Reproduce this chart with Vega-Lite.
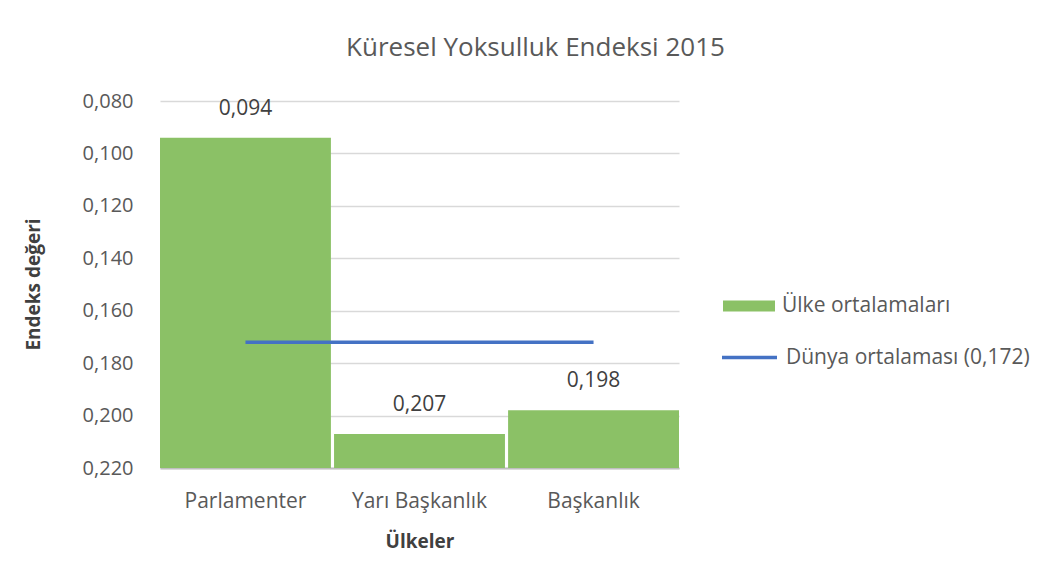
{
  "$schema": "https://vega.github.io/schema/vega-lite/v6.json",
  "autosize": {"type": "none"},
  "width": 519,
  "height": 367,
  "padding": {"left": 160, "top": 101, "right": 381, "bottom": 116},
  "background": "white",
  "title": {
    "text": "Küresel Yoksulluk Endeksi 2015",
    "anchor": "middle",
    "frame": "group",
    "dx": 116,
    "dy": 38,
    "offset": 42,
    "baseline": "bottom",
    "font": "Open Sans",
    "fontSize": 26,
    "fontWeight": "normal",
    "color": "#595959"
  },
  "datasets": {
    "bars": [
      {"ulke": "Parlamenter", "deger": 0.094, "etiket": "0,094"},
      {"ulke": "Yarı Başkanlık", "deger": 0.207, "etiket": "0,207"},
      {"ulke": "Başkanlık", "deger": 0.198, "etiket": "0,198"}
    ],
    "ortalama": [
      {"ulke": "Parlamenter", "deger": 0.172},
      {"ulke": "Başkanlık", "deger": 0.172}
    ]
  },
  "config": {
    "view": {"stroke": null},
    "font": "Open Sans"
  },
  "layer": [
    {
      "data": {"name": "bars"},
      "mark": {"type": "bar", "stroke": "white", "strokeWidth": 0},
      "encoding": {
        "x": {
          "field": "ulke",
          "type": "nominal",
          "sort": ["Parlamenter", "Yarı Başkanlık", "Başkanlık"],
          "scale": {"paddingInner": 0.018, "paddingOuter": 0},
          "axis": {
            "title": "Ülkeler",
            "titleFont": "Open Sans",
            "titleFontSize": 19,
            "titleFontWeight": "bold",
            "titleColor": "#404040",
            "titleY": 73,
            "titleBaseline": "middle",
            "labelAngle": 0,
            "labelFont": "Open Sans",
            "labelFontSize": 21,
            "labelColor": "#595959",
            "labelPadding": 22,
            "labelBaseline": "top",
            "ticks": false,
            "domain": true,
            "domainColor": "#bfbfbf",
            "domainWidth": 2
          }
        },
        "y": {
          "field": "deger",
          "type": "quantitative",
          "scale": {"domain": [0.08, 0.22], "reverse": true, "nice": false, "zero": false},
          "axis": {
            "title": "Endeks değeri",
            "titleFont": "Open Sans",
            "titleFontSize": 19,
            "titleFontWeight": "bold",
            "titleColor": "#404040",
            "titleX": -127,
            "titleY": 183,
            "titleAngle": -90,
            "titleBaseline": "middle",
            "values": [0.08, 0.1, 0.12, 0.14, 0.16, 0.18, 0.2, 0.22],
            "labelExpr": "replace(format(datum.value, '.3f'), '.', ',')",
            "labelFont": "Open Sans",
            "labelFontSize": 20,
            "labelColor": "#595959",
            "labelPadding": 27,
            "ticks": false,
            "domain": false,
            "grid": true,
            "gridColor": "#d9d9d9",
            "gridWidth": 1.5
          }
        },
        "y2": {"datum": 0.22},
        "fill": {
          "datum": "Ülke ortalamaları",
          "type": "nominal",
          "scale": {"range": ["#8bc166"]},
          "legend": {
            "title": null,
            "orient": "none",
            "legendX": 563,
            "legendY": 179,
            "padding": 0,
            "symbolType": "M-1,-0.21H1V0.21H-1Z",
            "symbolSize": 2704,
            "symbolStrokeWidth": 0,
            "symbolFillColor": "#8bc166",
            "labelFont": "Open Sans",
            "labelFontSize": 21,
            "labelColor": "#595959",
            "labelOffset": 7,
            "labelLimit": 400
          }
        }
      }
    },
    {
      "data": {"name": "bars"},
      "mark": {"type": "text", "dy": -29, "baseline": "middle", "align": "center", "font": "Open Sans", "fontSize": 21, "color": "#404040"},
      "encoding": {
        "x": {"field": "ulke", "type": "nominal", "sort": ["Parlamenter", "Yarı Başkanlık", "Başkanlık"]},
        "y": {"field": "deger", "type": "quantitative"},
        "text": {"field": "etiket", "type": "nominal"}
      }
    },
    {
      "data": {"name": "ortalama"},
      "mark": {"type": "line", "strokeWidth": 3.5},
      "encoding": {
        "x": {"field": "ulke", "type": "nominal", "sort": ["Parlamenter", "Yarı Başkanlık", "Başkanlık"]},
        "y": {"field": "deger", "type": "quantitative"},
        "stroke": {
          "datum": "Dünya ortalaması (0,172)",
          "type": "nominal",
          "scale": {"range": ["#4472c4"]},
          "legend": {
            "title": null,
            "orient": "none",
            "legendX": 560,
            "legendY": 227,
            "padding": 0,
            "symbolType": "M-1,0H1",
            "symbolSize": 3025,
            "symbolStrokeWidth": 3.5,
            "labelFont": "Open Sans",
            "labelFontSize": 21,
            "labelColor": "#595959",
            "labelOffset": 7,
            "labelLimit": 400
          }
        }
      }
    }
  ],
  "resolve": {"scale": {"fill": "independent", "stroke": "independent"}}
}
